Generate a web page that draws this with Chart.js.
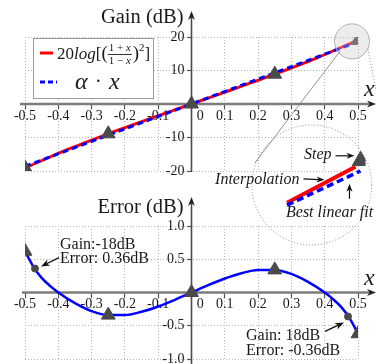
<!DOCTYPE html>
<html>
<head>
<meta charset="utf-8">
<script src="https://cdn.jsdelivr.net/npm/chart.js@4.4.1/dist/chart.umd.min.js"></script>
<style>
  html, body { margin: 0; padding: 0; background: #fff; overflow: hidden; }
  #wrap { position: relative; width: 376px; height: 364px; overflow: hidden; }
  canvas { position: absolute; left: 0; }
  #gainChart { top: 0; }
  #errChart { top: 182px; }
  #zoomChart { top: 0; pointer-events: none; }
</style>
</head>
<body>
<div id="wrap">
  <canvas id="gainChart" width="376" height="182"></canvas>
  <canvas id="errChart" width="376" height="192"></canvas>
  <canvas id="zoomChart" width="376" height="364"></canvas>
</div>
<script>
// tick positions
var xTickValues = [-0.5, -0.4, -0.3, -0.2, -0.1, 0, 0.1, 0.2, 0.3, 0.4, 0.5];
var gainTickValues = [-20, -10, 0, 10, 20];
var errTickValues = [-1.0, -0.5, 0, 0.5, 1.0];

// quantisation steps (triangles)
var stepX = [-0.5, -0.25, 0, 0.25, 0.5];
var gainAtSteps = [-19.0, -8.9, 0, 8.9, 19.0];
var errAtSteps = [0.62, -0.34, 0, 0.34, -0.62];

// exact gain curve and its best linear fit
var curveX = [-0.5, -0.375, -0.25, -0.125, 0, 0.125, 0.25, 0.375, 0.5];
var gainCurve = [-19.1, -13.7, -8.9, -4.4, 0, 4.4, 8.9, 13.7, 19.1];
var fitX = [-0.5, 0.5];
var fitGain = [-18.6, 18.6];

// error of the approximation
var errX = [-0.5, -0.475, -0.45, -0.425, -0.4, -0.35, -0.3, -0.25, -0.2, -0.15, -0.1, -0.05, 0,
            0.05, 0.1, 0.15, 0.2, 0.25, 0.3, 0.35, 0.4, 0.425, 0.45, 0.475, 0.5];
var errCurve = [0.62, 0.39, 0.22, 0.10, 0.0, -0.16, -0.28, -0.34, -0.34, -0.29, -0.21, -0.11, 0,
                0.11, 0.21, 0.29, 0.34, 0.34, 0.28, 0.16, 0.0, -0.10, -0.22, -0.39, -0.62];

// highlighted points
var markedX = [-0.47, 0.47];
var markedGain = [-18, 18];
var markedErr = [0.36, -0.36];

var SERIF = "'Liberation Serif', 'DejaVu Serif', serif";
var INK = '#1a1a1a';

function pts(xs, ys) {
  return xs.map(function (x, i) { return { x: x, y: ys[i] }; });
}
function tickSetter(values) {
  return function (scale) { scale.ticks = values.map(function (v) { return { value: v }; }); };
}

// LaTeX-like stealth arrow
function arrow(ctx, x1, y1, x2, y2, head, color, width) {
  var a = Math.atan2(y2 - y1, x2 - x1);
  var c = Math.cos(a), s = Math.sin(a);
  ctx.save();
  ctx.strokeStyle = color;
  ctx.fillStyle = color;
  ctx.lineWidth = width;
  ctx.beginPath();
  ctx.moveTo(x1, y1);
  ctx.lineTo(x2 - c * head * 0.7, y2 - s * head * 0.7);
  ctx.stroke();
  var hw = head * 0.38;
  ctx.beginPath();
  ctx.moveTo(x2, y2);
  ctx.lineTo(x2 - c * head - s * hw, y2 - s * head + c * hw);
  ctx.lineTo(x2 - c * head * 0.7, y2 - s * head * 0.7);
  ctx.lineTo(x2 - c * head + s * hw, y2 - s * head - c * hw);
  ctx.closePath();
  ctx.fill();
  ctx.restore();
}

// axes crossing at the origin, with arrow heads
var crossAxes = {
  id: 'crossAxes',
  beforeDatasetsDraw: function (chart, args, opts) {
    var ctx = chart.ctx;
    var x0 = chart.scales.x.getPixelForValue(0);
    var y0 = chart.scales.y.getPixelForValue(0);
    ctx.save();
    // vertical axis
    ctx.strokeStyle = '#4a4a4a';
    ctx.lineWidth = 1.6;
    ctx.beginPath();
    ctx.moveTo(x0, opts.yBottom);
    ctx.lineTo(x0, opts.yTip + 4);
    ctx.stroke();
    arrow(ctx, x0, opts.yTip + 6, x0, opts.yTip, 9, '#222', 1.4);
    // horizontal axis
    ctx.strokeStyle = '#7c7c7c';
    ctx.lineWidth = 2.6;
    ctx.beginPath();
    ctx.moveTo(opts.xLeft, y0);
    ctx.lineTo(opts.xTip - 5, y0);
    ctx.stroke();
    arrow(ctx, opts.xTip - 6, y0, opts.xTip, y0, 9, '#222', 1.4);
    // axis name
    ctx.fillStyle = INK;
    ctx.font = 'italic 24px ' + SERIF;
    ctx.textAlign = 'left';
    ctx.textBaseline = 'alphabetic';
    ctx.fillText('x', opts.xTip - 12, y0 - 8);
    // title next to the vertical axis
    ctx.font = '20.5px ' + SERIF;
    ctx.textAlign = 'right';
    ctx.fillText(opts.title, x0 - 8, opts.titleBase);
    ctx.restore();
  }
};

function scaleOpts(values, fmt, extra) {
  var o = {
    type: 'linear',
    afterBuildTicks: tickSetter(values),
    ticks: {
      autoSkip: false,
      maxRotation: 0,
      color: INK,
      font: { family: SERIF, size: 14, lineHeight: 1 },
      callback: fmt
    },
    grid: { color: '#b4b4b4', lineWidth: 1, tickColor: '#555', tickLength: 5, tickWidth: 1.2 },
    border: { display: false, dash: [1, 2] }
  };
  for (var k in extra) o[k] = extra[k];
  return o;
}
function fmtX(v) { return Math.abs(v) < 1e-9 ? '     0' : v.toFixed(1); }
// labels on the vertical axis sit a little left of it
function fmtGain(v) { return v === 0 ? '' : String(v) + '  '; }
function fmtErr(v) { return v === 0 ? '' : v.toFixed(1) + '  '; }

// legend box with the formula
var gainLegend = {
  id: 'gainLegend',
  afterDraw: function (chart) {
    var ctx = chart.ctx, ca = chart.chartArea;
    var bx = ca.left + 8, by = ca.top + 1, bw = 120, bh = 60;
    ctx.save();
    ctx.fillStyle = '#fff';
    ctx.strokeStyle = '#9a9a9a';
    ctx.lineWidth = 1;
    ctx.fillRect(bx, by, bw, bh);
    ctx.strokeRect(bx + 0.5, by + 0.5, bw, bh);

    var red = chart.data.datasets[2], blue = chart.data.datasets[1];
    ctx.lineWidth = 3;
    ctx.strokeStyle = red.borderColor;
    ctx.beginPath(); ctx.moveTo(bx + 7, by + 15); ctx.lineTo(bx + 20, by + 15); ctx.stroke();
    ctx.strokeStyle = blue.borderColor;
    ctx.setLineDash([5, 3]);
    ctx.beginPath(); ctx.moveTo(bx + 7, by + 44); ctx.lineTo(bx + 24, by + 44); ctx.stroke();
    ctx.setLineDash([]);

    ctx.fillStyle = INK;
    ctx.textAlign = 'left';
    ctx.textBaseline = 'alphabetic';
    var x = bx + 24, base = by + 21;
    function run(t, font, dy) {
      ctx.font = font;
      ctx.fillText(t, x, base + (dy || 0));
      x += ctx.measureText(t).width;
    }
    run('20', '17px ' + SERIF);
    run('log', 'italic 17px ' + SERIF);
    run('[', '17px ' + SERIF);
    run('(', '19px ' + SERIF);
    // small fraction (1+x)/(1-x)
    ctx.font = '11px ' + SERIF;
    var w1 = ctx.measureText('1 + ').width;
    ctx.font = 'italic 11px ' + SERIF;
    var w2 = ctx.measureText('x').width;
    var fw = w1 + w2 + 2;
    ctx.fillRect(x, base - 5, fw, 0.9);
    [['1 + ', -8], ['1 \u2212 ', 5]].forEach(function (p) {
      ctx.font = '11px ' + SERIF;
      ctx.fillText(p[0], x + 1, base + p[1]);
      ctx.font = 'italic 11px ' + SERIF;
      ctx.fillText('x', x + 1 + w1, base + p[1]);
    });
    x += fw + 1;
    run(')', '19px ' + SERIF);
    run('2', '11px ' + SERIF, -8);
    run(']', '17px ' + SERIF);

    // alpha . x
    ctx.font = 'italic 24px ' + SERIF;
    ctx.fillText('\u03b1', bx + 42, by + 51);
    ctx.font = '20px ' + SERIF;
    ctx.fillText('\u00b7', bx + 62, by + 50);
    ctx.font = 'italic 24px ' + SERIF;
    ctx.fillText('x', bx + 76, by + 51);
    ctx.restore();
  }
};

var gainChart = new Chart(document.getElementById('gainChart'), {
  type: 'scatter',
  data: {
    datasets: [
      { label: 'steps', data: pts(stepX, gainAtSteps), showLine: false,
        pointStyle: 'triangle', pointRadius: 8, backgroundColor: '#4a4a4a', borderColor: '#4a4a4a' },
      { label: '\u03b1 \u00b7 x', data: pts(fitX, fitGain), showLine: true, pointRadius: 0,
        borderColor: '#0000ff', borderWidth: 3, borderDash: [6, 4] },
      { label: '20log[((1+x)/(1-x))\u00b2]', data: pts(curveX, gainCurve), showLine: true, pointRadius: 0,
        borderColor: '#ff0000', borderWidth: 3, tension: 0.3 }
    ]
  },
  options: {
    responsive: false,
    animation: false,
    events: [],
    layout: { padding: { left: 25, right: 18, top: 37, bottom: 11 } },
    plugins: {
      legend: { display: false },
      tooltip: { enabled: false },
      crossAxes: { yTip: 11, yBottom: 172, xLeft: 20, xTip: 376, title: 'Gain (dB)', titleBase: 23 }
    },
    scales: {
      x: scaleOpts(xTickValues, fmtX, { min: -0.5, max: 0.5, position: { y: 0 } }),
      y: scaleOpts(gainTickValues, fmtGain, { min: -20, max: 20, position: { x: 0 } })
    }
  },
  plugins: [crossAxes, gainLegend]
});
gainChart.options.scales.x.ticks.padding = 0;
gainChart.update();

// labelled points on the error curve
var errNotes = {
  id: 'errNotes',
  afterDraw: function (chart) {
    var ctx = chart.ctx, sx = chart.scales.x, sy = chart.scales.y;
    ctx.save();
    ctx.fillStyle = INK;
    ctx.font = '16px ' + SERIF;
    ctx.textAlign = 'left';
    ctx.textBaseline = 'alphabetic';
    markedX.forEach(function (mx, i) {
      var px = sx.getPixelForValue(mx), py = sy.getPixelForValue(markedErr[i]);
      var g = markedGain[i];
      var l1 = 'Gain:' + (g < 0 ? String(g) : ' ' + g) + 'dB';
      var l2 = 'Error: ' + markedErr[i].toFixed(2) + 'dB';
      if (i === 0) {
        ctx.fillText(l1, px + 25, py - 20);
        ctx.fillText(l2, px + 25, py - 6);
        arrow(ctx, px + 24, py - 11, px + 6, py - 2, 9, '#111', 1.3);
      } else {
        ctx.fillText(l1, px - 102, py + 24);
        ctx.fillText(l2, px - 102, py + 39);
        arrow(ctx, px - 23, py + 15, px - 4, py + 6, 9, '#111', 1.3);
      }
    });
    ctx.restore();
  }
};

var errChart = new Chart(document.getElementById('errChart'), {
  type: 'scatter',
  data: {
    datasets: [
      { label: 'steps', data: pts(stepX, errAtSteps), showLine: false,
        pointStyle: 'triangle', pointRadius: 8, backgroundColor: '#4a4a4a', borderColor: '#4a4a4a' },
      { label: 'marked', data: pts(markedX, markedErr), showLine: false,
        pointRadius: 3.5, backgroundColor: '#4a4a4a', borderColor: '#4a4a4a' },
      { label: 'error', data: pts(errX, errCurve), showLine: true, pointRadius: 0,
        borderColor: '#0000ff', borderWidth: 2.5, cubicInterpolationMode: 'monotone' }
    ]
  },
  options: {
    responsive: false,
    animation: false,
    events: [],
    layout: { padding: { left: 25, right: 18, top: 44, bottom: 15 } },
    plugins: {
      legend: { display: false },
      tooltip: { enabled: false },
      crossAxes: { yTip: 15, yBottom: 192, xLeft: 22, xTip: 376, title: 'Error (dB)', titleBase: 31 }
    },
    scales: {
      x: scaleOpts(xTickValues, fmtX, { min: -0.5, max: 0.5, position: { y: 0 } }),
      y: scaleOpts(errTickValues, fmtErr, { min: -1, max: 1, position: { x: 0 } })
    }
  },
  plugins: [crossAxes, errNotes]
});
errChart.options.scales.x.ticks.padding = 0;
errChart.update();

// magnified view of the last step
var insetX = [0.06, 0.88];
var insetInterp = [0.12, 0.72];
var insetFitX = [0.06, 0.94];
var insetFit = [0.08, 0.65];
var insetStepX = [0.94];
var insetStep = [0.82];

var zoomDecor = {
  id: 'zoomDecor',
  beforeDatasetsDraw: function (chart) {
    var ctx = chart.ctx, ca = chart.chartArea;
    var cx = (ca.left + ca.right) / 2 - 12, cy = (ca.top + ca.bottom) / 2 + 5, r = 60;
    // spot on the gain chart
    var gx = gainChart.scales.x.getPixelForValue(stepX[4]) - 6;
    var gy = gainChart.scales.y.getPixelForValue(gainAtSteps[4]) + 1;
    ctx.save();
    ctx.fillStyle = 'rgba(200,200,200,0.35)';
    ctx.strokeStyle = '#b0b0b0';
    ctx.lineWidth = 1;
    ctx.beginPath(); ctx.arc(gx, gy, 17.5, 0, Math.PI * 2); ctx.fill(); ctx.stroke();
    ctx.strokeStyle = '#8a8a8a';
    ctx.setLineDash([1, 2]);
    ctx.beginPath(); ctx.arc(cx, cy, r, 0, Math.PI * 2); ctx.stroke();
    ctx.beginPath(); ctx.moveTo(gx + 16, gy + 8); ctx.lineTo(gx + 34, gy + 100); ctx.stroke();
    ctx.setLineDash([]);
    ctx.strokeStyle = '#777';
    ctx.lineWidth = 0.8;
    ctx.beginPath(); ctx.moveTo(gx - 12, gy + 10); ctx.lineTo(cx - 57, cy - 22); ctx.stroke();
    ctx.restore();
  },
  afterDraw: function (chart) {
    var ctx = chart.ctx, sx = chart.scales.x, sy = chart.scales.y;
    var tx = sx.getPixelForValue(insetStepX[0]), ty = sy.getPixelForValue(insetStep[0]);
    var ex = sx.getPixelForValue(insetX[0]);
    ctx.save();
    ctx.fillStyle = INK;
    ctx.font = 'italic 16px ' + SERIF;
    ctx.textBaseline = 'alphabetic';
    ctx.textAlign = 'right';
    ctx.fillText('Step', tx - 29, ty - 2);
    arrow(ctx, tx - 25, ty - 5, tx - 6, ty - 5, 8, '#111', 1.2);
    ctx.fillText('Interpolation', tx - 61, ty + 23);
    arrow(ctx, tx - 57, ty + 18, tx - 36, ty + 19, 8, '#111', 1.2);
    ctx.textAlign = 'left';
    ctx.fillText('Best linear fit', ex - 1, ty + 56);
    arrow(ctx, tx - 11, ty + 38, tx - 11, ty + 23, 8, '#111', 1.2);
    ctx.restore();
  }
};

var zoomChart = new Chart(document.getElementById('zoomChart'), {
  type: 'scatter',
  data: {
    datasets: [
      { label: 'step', data: pts(insetStepX, insetStep), showLine: false,
        pointStyle: 'triangle', pointRadius: 9.5, backgroundColor: '#4a4a4a', borderColor: '#4a4a4a' },
      { label: 'best linear fit', data: pts(insetFitX, insetFit), showLine: true, pointRadius: 0,
        borderColor: '#0000ff', borderWidth: 3.5, borderDash: [7, 4] },
      { label: 'interpolation', data: pts(insetX, insetInterp), showLine: true, pointRadius: 0,
        borderColor: '#ff0000', borderWidth: 4 }
    ]
  },
  options: {
    responsive: false,
    animation: false,
    events: [],
    layout: { padding: { left: 282, right: 8, top: 150, bottom: 154 } },
    plugins: { legend: { display: false }, tooltip: { enabled: false } },
    scales: {
      x: { type: 'linear', min: 0, max: 1, display: false },
      y: { type: 'linear', min: 0, max: 1, display: false }
    }
  },
  plugins: [zoomDecor]
});
</script>
</body>
</html>
